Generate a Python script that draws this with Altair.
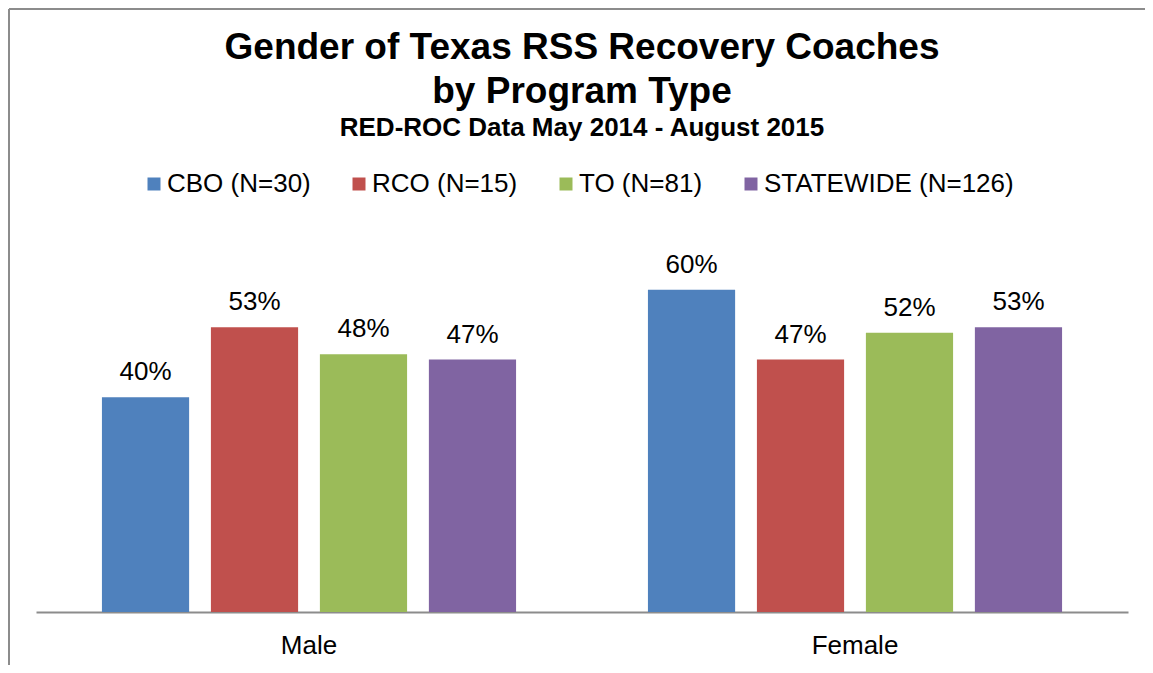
import altair as alt
import pandas as pd

genders = ["Male", "Female"]
programs = ["CBO (N=30)", "RCO (N=15)", "TO (N=81)", "STATEWIDE (N=126)"]
male_values = [0.40, 0.53, 0.48, 0.47]
female_values = [0.60, 0.47, 0.52, 0.53]
colors = ["#4F81BD", "#C0504D", "#9BBB59", "#8064A2"]

rows = []
for g, vals in zip(genders, [male_values, female_values]):
    for p, v in zip(programs, vals):
        rows.append({"Gender": g, "Program": p, "Share": v})
df = pd.DataFrame(rows)

FONT = "Liberation Sans"

x = alt.X(
    "Gender:N",
    sort=genders,
    scale=alt.Scale(paddingInner=0, paddingOuter=0),
    axis=alt.Axis(
        title=None, labelAngle=0, ticks=False, domainColor="#8c8c8c",
        domainWidth=2, labelFontSize=26, labelFont=FONT, labelColor="black",
        labelPadding=20,
    ),
)
xoff = alt.XOffset("Program:N", sort=programs,
                   scale=alt.Scale(paddingInner=0.2, paddingOuter=0.605))
y = alt.Y("Share:Q", scale=alt.Scale(domain=[0, 0.7], nice=False), axis=None)
color = alt.Color(
    "Program:N", sort=programs,
    scale=alt.Scale(domain=programs, range=colors),
    legend=alt.Legend(
        title=None, orient="none", legendX=105, legendY=-65,
        direction="horizontal", symbolType="square", symbolSize=169,
        symbolStrokeWidth=0, labelFontSize=26, labelFont=FONT,
        labelColor="black", labelOffset=0, columnPadding=35, labelLimit=400,
    ),
)

base = alt.Chart(df)
bars = base.mark_bar().encode(x=x, xOffset=xoff, y=y, color=color)
labels = base.mark_text(dy=-17, baseline="alphabetic", fontSize=26,
                        font=FONT, color="black").encode(
    x=x, xOffset=xoff, y=y, text=alt.Text("Share:Q", format=".0%")
)

frame_df = pd.DataFrame({"k": [0]})
frame_left = alt.Chart(frame_df).mark_rule(color="#8c8c8c", strokeWidth=2).encode(
    x=alt.value(-27), y=alt.value(-227), y2=alt.value(500)
)
frame_top = alt.Chart(frame_df).mark_rule(color="#8c8c8c", strokeWidth=2).encode(
    x=alt.value(-27), x2=alt.value(1200), y=alt.value(-227)
)

chart = alt.layer(bars, labels, frame_left, frame_top).properties(
    width=1092,
    height=376,
    background="white",
    autosize=alt.AutoSizeParams(type="none"),
    padding={"left": 28, "top": 228, "right": 17, "bottom": 53},
    title=alt.TitleParams(
        text=["Gender of Texas RSS Recovery Coaches", "by Program Type"],
        subtitle="RED-ROC Data May 2014 - August 2015",
        font=FONT, fontSize=37, fontWeight="bold", color="black",
        lineHeight=44, subtitleFont=FONT, subtitleFontSize=26,
        subtitleFontWeight="bold", subtitleColor="black",
        subtitlePadding=4, anchor="middle", frame="group", offset=-134,
    ),
).configure_view(stroke=None)

chart.save("out.html", embed_options={"renderer": "svg", "actions": False})
